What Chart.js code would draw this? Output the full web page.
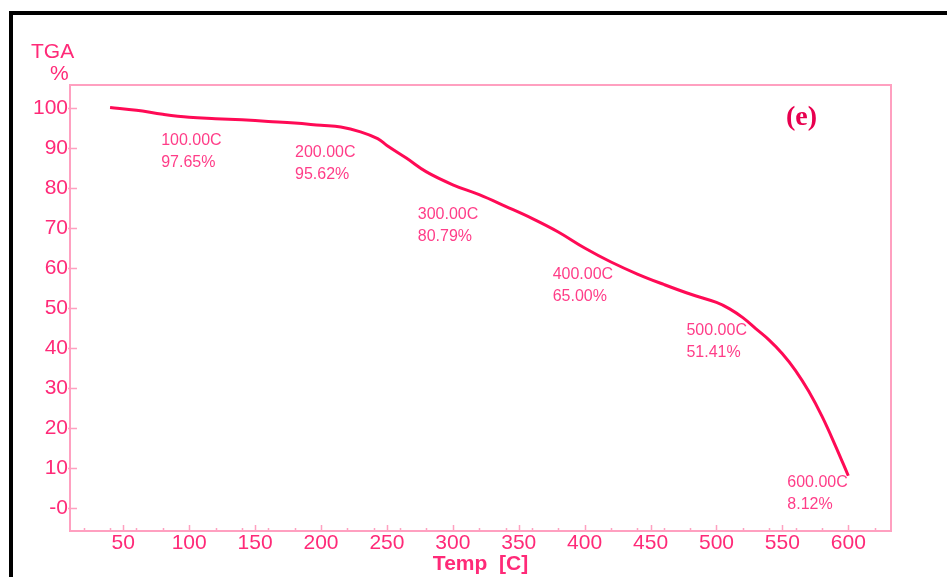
<!DOCTYPE html>
<html lang="en">
<head>
    <meta charset="UTF-8" />
    <title>TGA (e)</title>
    <script src="https://cdn.jsdelivr.net/npm/chart.js"></script>
    <style>
        body { margin: 0; overflow: hidden; background: #fff; }
        #frame { position: absolute; left: 9px; top: 11px; width: 2000px; height: 2000px; border: 4px solid #000; }
        #wrap { position: absolute; left: 0; top: 0; width: 947px; height: 577px; }
    </style>
</head>
<body>
    <div id="frame"></div>
    <div id="wrap"><canvas id="tgaChart"></canvas></div>

    <script>
        // TGA curve
        const temps = [40, 60, 80, 100, 120, 140, 160, 180, 200, 215, 230, 243, 250, 265, 280, 300,
                       320, 340, 360, 380, 400, 420, 440, 460, 480, 500, 510, 520, 530, 540, 550, 560, 570, 580, 590, 600];
        const mass  = [100.1, 99.4, 98.4, 97.65, 97.3, 97.0, 96.6, 96.2, 95.62, 95.2, 94.0, 92.3, 90.6, 87.4, 84.0, 80.79,
                       78.3, 75.4, 72.4, 69.0, 65.00, 61.5, 58.5, 55.9, 53.5, 51.41, 49.8, 47.6, 44.8, 42.0, 38.6, 34.4, 29.2, 23.0, 15.8, 8.12];

        // marked points on the curve
        const markTemps = [100, 200, 300, 400, 500, 600];
        const markMass  = [97.65, 95.62, 80.79, 65.00, 51.41, 8.12];

        const xTicks = [50, 100, 150, 200, 250, 300, 350, 400, 450, 500, 550, 600];
        const yTicks = [0, 10, 20, 30, 40, 50, 60, 70, 80, 90, 100];

        const pinkText = '#ff2a78';
        const pinkLine = '#ff0a55';
        const pinkAxis = '#ffa0c0';
        const font = "'Liberation Sans', Arial, sans-serif";

        // label offsets from each marked point (px)
        const markOffsets = [[-28, 16], [-26, 20], [-35, 22], [-32, 19], [-30, 21], [-61, -1]];

        const decor = {
            id: 'decor',
            afterDatasetsDraw(chart) {
                const { ctx, chartArea: a, scales: { x, y } } = chart;
                ctx.save();
                // plot box
                ctx.strokeStyle = pinkAxis;
                ctx.lineWidth = 2;
                ctx.strokeRect(a.left, a.top, a.right - a.left, a.bottom - a.top);
                // y ticks
                ctx.lineWidth = 1.5;
                ctx.beginPath();
                yTicks.forEach(v => {
                    const py = Math.round(y.getPixelForValue(v)) + 0.5;
                    ctx.moveTo(a.left - 2, py);
                    ctx.lineTo(a.left + 7, py);
                });
                // x minor ticks every 20, major at labels
                for (let t = 20; t <= 620; t += 20) {
                    const px = Math.round(x.getPixelForValue(t)) + 0.5;
                    ctx.moveTo(px, a.bottom);
                    ctx.lineTo(px, a.bottom - 3);
                }
                xTicks.forEach(t => {
                    const px = Math.round(x.getPixelForValue(t)) + 0.5;
                    ctx.moveTo(px, a.bottom);
                    ctx.lineTo(px, a.bottom - 6);
                });
                ctx.stroke();

                // point labels
                ctx.fillStyle = '#ff3d88';
                ctx.font = '16px ' + font;
                ctx.textBaseline = 'alphabetic';
                markTemps.forEach((t, i) => {
                    const px = x.getPixelForValue(t) + markOffsets[i][0];
                    const py = y.getPixelForValue(markMass[i]) + markOffsets[i][1];
                    ctx.fillText(t.toFixed(2) + 'C', px, py + 12);
                    ctx.fillText(markMass[i].toFixed(2) + '%', px, py + 34);
                });

                // axis caption and panel tag
                ctx.fillStyle = pinkText;
                ctx.font = '21px ' + font;
                ctx.fillText('TGA', 31, 58);
                ctx.fillText('%', 50, 80);
                ctx.fillStyle = '#e8004f';
                ctx.font = "bold 28px 'Liberation Serif', 'Times New Roman', serif";
                ctx.fillText('(e)', 786, 125);
                ctx.restore();
            }
        };

        const ctx = document.getElementById('tgaChart').getContext('2d');
        const tgaChart = new Chart(ctx, {
            type: 'line',
            data: {
                datasets: [{
                    data: temps.map((t, i) => ({ x: t, y: mass[i] })),
                    borderColor: pinkLine,
                    borderWidth: 3,
                    pointRadius: 0,
                    tension: 0.4,
                    fill: false
                }]
            },
            options: {
                responsive: true,
                maintainAspectRatio: false,
                animation: false,
                layout: { padding: { top: 85, right: 56, left: 0, bottom: 0 } },
                plugins: { legend: { display: false }, tooltip: { enabled: false } },
                scales: {
                    x: {
                        type: 'linear',
                        min: 9.6,
                        max: 632.4,
                        afterBuildTicks: s => { s.ticks = xTicks.map(v => ({ value: v })); },
                        afterFit: s => { s.height = 46; },
                        grid: { display: false, drawTicks: false },
                        border: { display: false },
                        ticks: {
                            color: pinkText,
                            font: { family: font, size: 21 },
                            padding: 0,
                            maxRotation: 0,
                            autoSkip: false
                        },
                        title: {
                            display: true,
                            text: 'Temp  [C]',
                            color: pinkText,
                            font: { family: font, size: 21, weight: 'bold' },
                            padding: { top: 0, bottom: 0 }
                        }
                    },
                    y: {
                        min: -5.67,
                        max: 105.7,
                        afterBuildTicks: s => { s.ticks = yTicks.map(v => ({ value: v })); },
                        afterFit: s => { s.width = 70; },
                        grid: { display: false, drawTicks: false },
                        border: { display: false },
                        ticks: {
                            color: pinkText,
                            font: { family: font, size: 21 },
                            padding: 2,
                            callback: v => v === 0 ? '-0' : String(v)
                        }
                    }
                }
            },
            plugins: [decor]
        });
    </script>
</body>
</html>
